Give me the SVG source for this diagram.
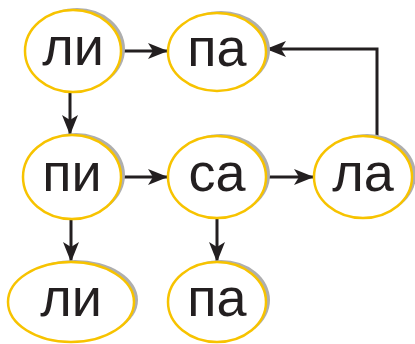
<svg xmlns="http://www.w3.org/2000/svg" width="415" height="344" viewBox="0 0 415 344">
<defs>
<style>
.sh{fill:#aeaeae;}
.el{fill:#ffffff;stroke:#f7c300;stroke-width:2.5;}
.tx{font-family:"Liberation Sans",Arial,sans-serif;font-size:54px;fill:#231f20;text-anchor:middle;}
.cn{fill:none;stroke:#231f20;stroke-width:3;}
</style>
<marker id="ar" markerUnits="userSpaceOnUse" markerWidth="22" markerHeight="18" refX="20" refY="9" orient="auto">
<path d="M0,1 L20,9 L0,17 L5,9 Z" fill="#231f20"/>
</marker>
</defs>
<rect width="415" height="344" fill="#ffffff"/>
<g id="connectors">
<path class="cn" d="M121,51 H168" marker-end="url(#ar)"/>
<path class="cn" d="M70,93 V135" marker-end="url(#ar)"/>
<path class="cn" d="M121,177 H168" marker-end="url(#ar)"/>
<path class="cn" d="M266,177 H314" marker-end="url(#ar)"/>
<path class="cn" d="M377,137 V49 H266" marker-end="url(#ar)"/>
<path class="cn" d="M71,219 V262" marker-end="url(#ar)"/>
<path class="cn" d="M217,218 V262" marker-end="url(#ar)"/>
</g>
<g id="n1"><ellipse class="sh" cx="77" cy="49" rx="48" ry="41"/><ellipse class="el" cx="73" cy="51" rx="48" ry="41"/><text class="tx" x="73" y="65">ли</text></g>
<g id="n2"><ellipse class="sh" cx="221" cy="50" rx="49" ry="39"/><ellipse class="el" cx="217" cy="52" rx="49" ry="39"/><text class="tx" x="217" y="66">па</text></g>
<g id="n3"><ellipse class="sh" cx="76" cy="175" rx="49" ry="42"/><ellipse class="el" cx="72" cy="177" rx="49" ry="42"/><text class="tx" x="72" y="191">пи</text></g>
<g id="n4"><ellipse class="sh" cx="221" cy="175" rx="49" ry="41"/><ellipse class="el" cx="217" cy="177" rx="49" ry="41"/><text class="tx" x="217" y="191">са</text></g>
<g id="n5"><ellipse class="sh" cx="367" cy="175" rx="49" ry="41"/><ellipse class="el" cx="363" cy="177" rx="49" ry="41"/><text class="tx" x="363" y="191">ла</text></g>
<g id="n6"><ellipse class="sh" cx="75" cy="300" rx="63" ry="40"/><ellipse class="el" cx="71" cy="302" rx="63" ry="40"/><text class="tx" x="71" y="316">ли</text></g>
<g id="n7"><ellipse class="sh" cx="221" cy="300" rx="49" ry="40"/><ellipse class="el" cx="217" cy="302" rx="49" ry="40"/><text class="tx" x="217" y="316">па</text></g>
</svg>
